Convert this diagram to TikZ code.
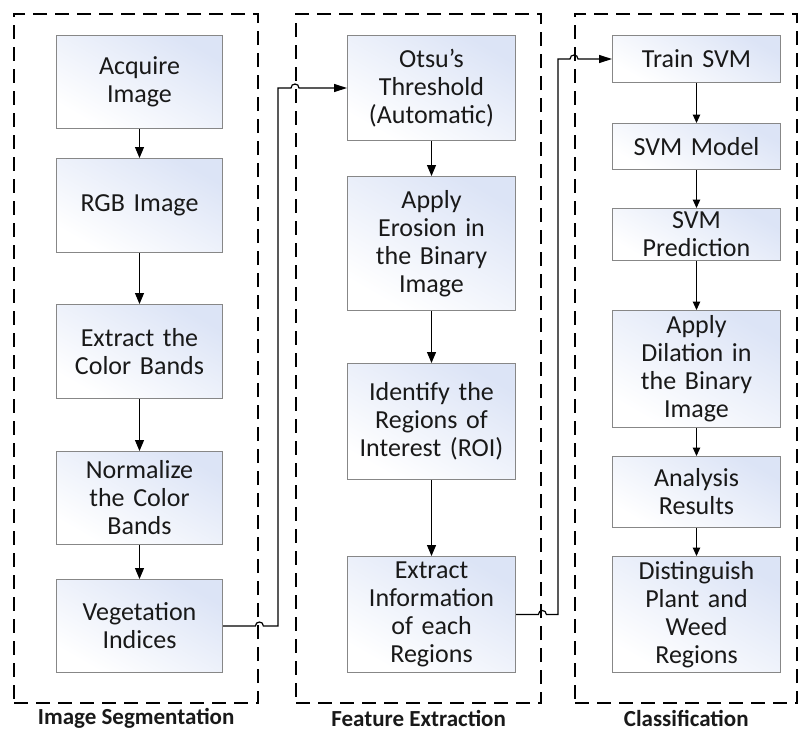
\documentclass[tikz,border=0pt]{standalone}
\usepackage{fontspec}
\setmainfont{Carlito}
\usetikzlibrary{arrows.meta,calc}
\definecolor{boxblue}{RGB}{220,228,246}
\definecolor{boxedge}{RGB}{135,135,135}
\definecolor{ink}{RGB}{25,25,25}
\begin{document}
\begin{tikzpicture}[x=1pt,y=-1pt,
  stepbox/.style={draw=boxedge, line width=1pt, anchor=north west,
    left color=boxblue, right color=white, shading angle=-30,
    inner sep=0pt, text width=160pt, align=center, text=ink,
    font=\fontsize{26}{28}\selectfont},
  group/.style={draw=black, line width=2.4pt, dash pattern=on 14pt off 8pt,
    anchor=north west, inner sep=0pt},
  grouplabel/.style={font=\fontsize{23}{25}\selectfont\bfseries, text=ink},
  flow/.style={draw=black, line width=1.2pt, -{Triangle[length=11pt,width=9pt]}},
  flowsmall/.style={draw=black, line width=1.1pt, -{Triangle[length=8.5pt,width=7.5pt]}},
  link/.style={draw=black, line width=1.2pt, -{Triangle[length=13pt,width=8pt]}}]
\useasboundingbox (0,0) rectangle (799,731);

% stage frames
\node[group, minimum width=244pt, minimum height=689pt] (g1) at (13,13) {};
\node[group, minimum width=245pt, minimum height=689pt] (g2) at (295,13) {};
\node[group, minimum width=222pt, minimum height=689pt] (g3) at (574,13) {};

% image segmentation
\node[stepbox, minimum width=166pt, minimum height=93pt] (acq)  at (56,35)  {Acquire\\Image};
\node[stepbox, minimum width=166pt, minimum height=94pt] (rgb)  at (56,158) {RGB Image};
\node[stepbox, minimum width=166pt, minimum height=94pt] (ext)  at (56,304) {Extract the\\Color Bands};
\node[stepbox, minimum width=166pt, minimum height=93pt] (norm) at (56,451) {Normalize\\the Color\\Bands};
\node[stepbox, minimum width=166pt, minimum height=93pt] (veg)  at (56,579) {Vegetation\\Indices};

% feature extraction
\node[stepbox, minimum width=168pt, minimum height=105pt] (otsu) at (347,35)  {Otsu’s\\Threshold\\(Automatic)};
\node[stepbox, minimum width=168pt, minimum height=134pt] (ero)  at (347,176) {Apply\\Erosion in\\the Binary\\Image};
\node[stepbox, minimum width=168pt, minimum height=116pt] (roi)  at (347,363) {Identify the\\Regions of\\Interest (ROI)};
\node[stepbox, minimum width=168pt, minimum height=116pt] (info) at (347,556) {Extract\\Information\\of each\\Regions};

% classification
\node[stepbox, minimum width=168pt, minimum height=47pt]  (train) at (612,35)  {Train SVM};
\node[stepbox, minimum width=168pt, minimum height=46pt]  (model) at (612,123) {SVM Model};
\node[stepbox, minimum width=168pt, minimum height=52pt]  (pred)  at (612,208) {SVM\\Prediction};
\node[stepbox, minimum width=168pt, minimum height=117pt] (dil)   at (612,310) {Apply\\Dilation in\\the Binary\\Image};
\node[stepbox, minimum width=168pt, minimum height=71pt]  (ana)   at (612,456) {Analysis\\Results};
\node[stepbox, minimum width=168pt, minimum height=116pt] (dist)  at (612,556) {Distinguish\\Plant and\\Weed\\Regions};

% stage titles
\node[grouplabel] (l1) at (g1.south |- 0,718) {Image Segmentation};
\node[grouplabel] (l2) at (g2.south |- 0,718) {Feature Extraction};
\node[grouplabel] (l3) at (g3.south |- 0,718) {Classification};

% flow inside each stage
\draw[flow] (acq) -- (rgb);
\draw[flow] (rgb) -- (ext);
\draw[flow] (ext) -- (norm);
\draw[flow] (norm) -- (veg);
\draw[flow] (otsu) -- (ero);
\draw[flow] (ero) -- (roi);
\draw[flow] (roi) -- (info);
\draw[flowsmall] (train) -- (model);
\draw[flowsmall] (model) -- (pred);
\draw[flowsmall] (pred) -- (dil);
\draw[flowsmall] (dil) -- (ana);
\draw[flowsmall] (ana) -- (dist);

% links between stages, hopping over the frame borders
\coordinate (v1) at (278,0);
\coordinate (v2) at (558,0);
\draw[link] (veg.east)
  -- ($(g1.east |- veg.east)+(-4,0)$)
  .. controls +(0,-5.3) and +(0,-5.3) .. ($(g1.east |- veg.east)+(4,0)$)
  -| (v1 |- otsu.west)
  -- ($(g2.west |- otsu.west)+(-4,0)$)
  .. controls +(0,-5.3) and +(0,-5.3) .. ($(g2.west |- otsu.west)+(4,0)$)
  -- (otsu.west);
\draw[link] (info.east)
  -- ($(g2.east |- info.east)+(-4,0)$)
  .. controls +(0,-5.3) and +(0,-5.3) .. ($(g2.east |- info.east)+(4,0)$)
  -| (v2 |- train.west)
  -- ($(g3.west |- train.west)+(-4,0)$)
  .. controls +(0,-5.3) and +(0,-5.3) .. ($(g3.west |- train.west)+(4,0)$)
  -- (train.west);
\end{tikzpicture}
\end{document}
